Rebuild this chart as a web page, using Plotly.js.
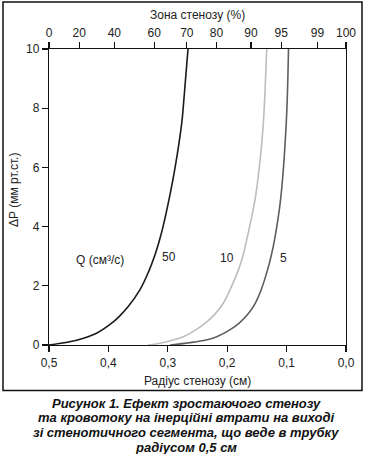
<!DOCTYPE html>
<html>
<head>
<meta charset="utf-8">
<script src="https://cdn.plot.ly/plotly-3.0.1.min.js"></script>
<style>html,body{margin:0;padding:0;background:#fff;}#chart{width:365px;height:454px;}</style>
</head>
<body>
<div id="chart"></div>
<script>
// Radius of stenosis (cm) and pressure drop (mm Hg)
var r50  = [0.500, 0.483, 0.465, 0.452, 0.420, 0.395, 0.382, 0.367, 0.347, 0.3324, 0.3227, 0.3139, 0.3080, 0.2981, 0.2877, 0.2766, 0.2739, 0.266];
var dp50 = [0.00, 0.05, 0.11, 0.17, 0.40, 0.73, 0.96, 1.29, 1.86, 2.47, 2.98, 3.55, 4.00, 4.90, 6.00, 7.49, 8.05, 10.0];

var r10  = [0.333, 0.313, 0.274, 0.2575, 0.2375, 0.2225, 0.2066, 0.1953, 0.1813, 0.1739, 0.1672, 0.1532, 0.146, 0.1392, 0.1335];
var dp10 = [0.00, 0.06, 0.28, 0.45, 0.73, 1.00, 1.41, 1.86, 2.53, 2.98, 3.55, 4.90, 6.00, 7.49, 10.0];

var r5   = [0.296, 0.2626, 0.2355, 0.2175, 0.1957, 0.1803, 0.164, 0.1528, 0.1429, 0.1322, 0.1263, 0.1203, 0.1102, 0.1006, 0.0968];
var dp5  = [0.00, 0.08, 0.17, 0.28, 0.51, 0.73, 1.07, 1.41, 1.86, 2.53, 2.98, 3.55, 4.90, 7.49, 10.0];

var seriesNames = ['50', '10', '5'];

var bottomTicks = [0.5, 0.4, 0.3, 0.2, 0.1, 0.0];
var topTickVals = [0.5, 0.449, 0.390, 0.323, 0.268, 0.218, 0.160, 0.109, 0.048, 0.0];
var topTickText = ['0', '20', '40', '60', '70', '80', '90', '95', '99', '100'];
var yTicks = [0, 2, 4, 6, 8, 10];

var captionLines = [
  'Рисунок 1. Ефект зростаючого стенозу',
  'та кровотоку на інерційні втрати на виході',
  'зі стенотичного сегмента, що веде в трубку',
  'радіусом 0,5 см'
];

var W = 365, H = 454, L = 49, R = 19, T = 49, B = 109;
var pw = W - L - R, ph = H - T - B;
function px(x) { return (x - L) / pw; }
function py(y) { return (H - B - y) / ph; }

var FONT = 'Liberation Sans, Arial, sans-serif';
var TXT = '#222';

function lineStyle(c) { return {color: c, width: 1.6, shape: 'spline', smoothing: 1}; }
var traces = [
  {x: r50, y: dp50, name: seriesNames[0], mode: 'lines', line: lineStyle('#1a1a1a'), hoverinfo: 'skip'},
  {x: r10, y: dp10, name: seriesNames[1], mode: 'lines', line: lineStyle('#bdbdbd'), hoverinfo: 'skip'},
  {x: r5,  y: dp5,  name: seriesNames[2], mode: 'lines', line: lineStyle('#5e5e5e'), hoverinfo: 'skip'},
  // same curve on the top (stenosis %) axis, invisible, so that axis is drawn
  {x: r50, y: dp50, xaxis: 'x2', yaxis: 'y', mode: 'lines', line: {color: 'rgba(0,0,0,0)', width: 0}, hoverinfo: 'skip', showlegend: false}
];

var axisCommon = {
  showgrid: false, zeroline: false, showline: true, linecolor: '#111', linewidth: 1.2,
  ticks: 'outside', ticklen: 6, tickwidth: 1.2, tickcolor: '#111',
  tickfont: {family: FONT, size: 12, color: TXT}
};

var annotations = [
  {text: 'Зона стенозу (%)', x: px(197), y: py(15), font: {size: 12}},
  {text: 'Радіус стенозу (см)', x: px(197), y: py(381), font: {size: 12}},
  {text: 'ΔP (мм рт.ст.)', x: px(14), y: py(190), textangle: -90, font: {size: 12}},
  {text: 'Q (см³/с)', x: px(100), y: py(260), font: {size: 12}},
  {text: seriesNames[0], x: px(169), y: py(257), font: {size: 12}},
  {text: seriesNames[1], x: px(227), y: py(258), font: {size: 12}},
  {text: seriesNames[2], x: px(283), y: py(258), font: {size: 12}}
];
captionLines.forEach(function (t, i) {
  annotations.push({text: '<b><i>' + t + '</i></b>', x: px(186), y: py(403 + i * 14.8),
    font: {size: 13, color: '#111'}});
});
annotations.forEach(function (a) {
  a.xref = 'paper'; a.yref = 'paper'; a.showarrow = false;
  a.xanchor = 'center'; a.yanchor = 'middle';
  a.font = Object.assign({family: FONT, color: TXT}, a.font);
});

var layout = {
  width: W, height: H,
  margin: {l: L, r: R, t: T, b: B, pad: 0},
  paper_bgcolor: '#fff', plot_bgcolor: '#fff',
  showlegend: false,
  separators: ',.',
  xaxis: Object.assign({}, axisCommon, {range: [0.5, 0], tickvals: bottomTicks, tickformat: '.1f', mirror: false}),
  xaxis2: Object.assign({}, axisCommon, {range: [0.5, 0], overlaying: 'x', side: 'top', anchor: 'y',
    tickmode: 'array', tickvals: topTickVals, ticktext: topTickText}),
  yaxis: Object.assign({}, axisCommon, {range: [0, 10], tickvals: yTicks, mirror: true}),
  annotations: annotations,
  shapes: [{type: 'rect', xref: 'paper', yref: 'paper', x0: px(3), x1: px(362), y0: py(390.5), y1: py(2),
    line: {color: '#111', width: 1.5}, fillcolor: 'rgba(0,0,0,0)'}]
};

Plotly.newPlot('chart', traces, layout, {staticPlot: true, displayModeBar: false});
</script>
</body>
</html>
